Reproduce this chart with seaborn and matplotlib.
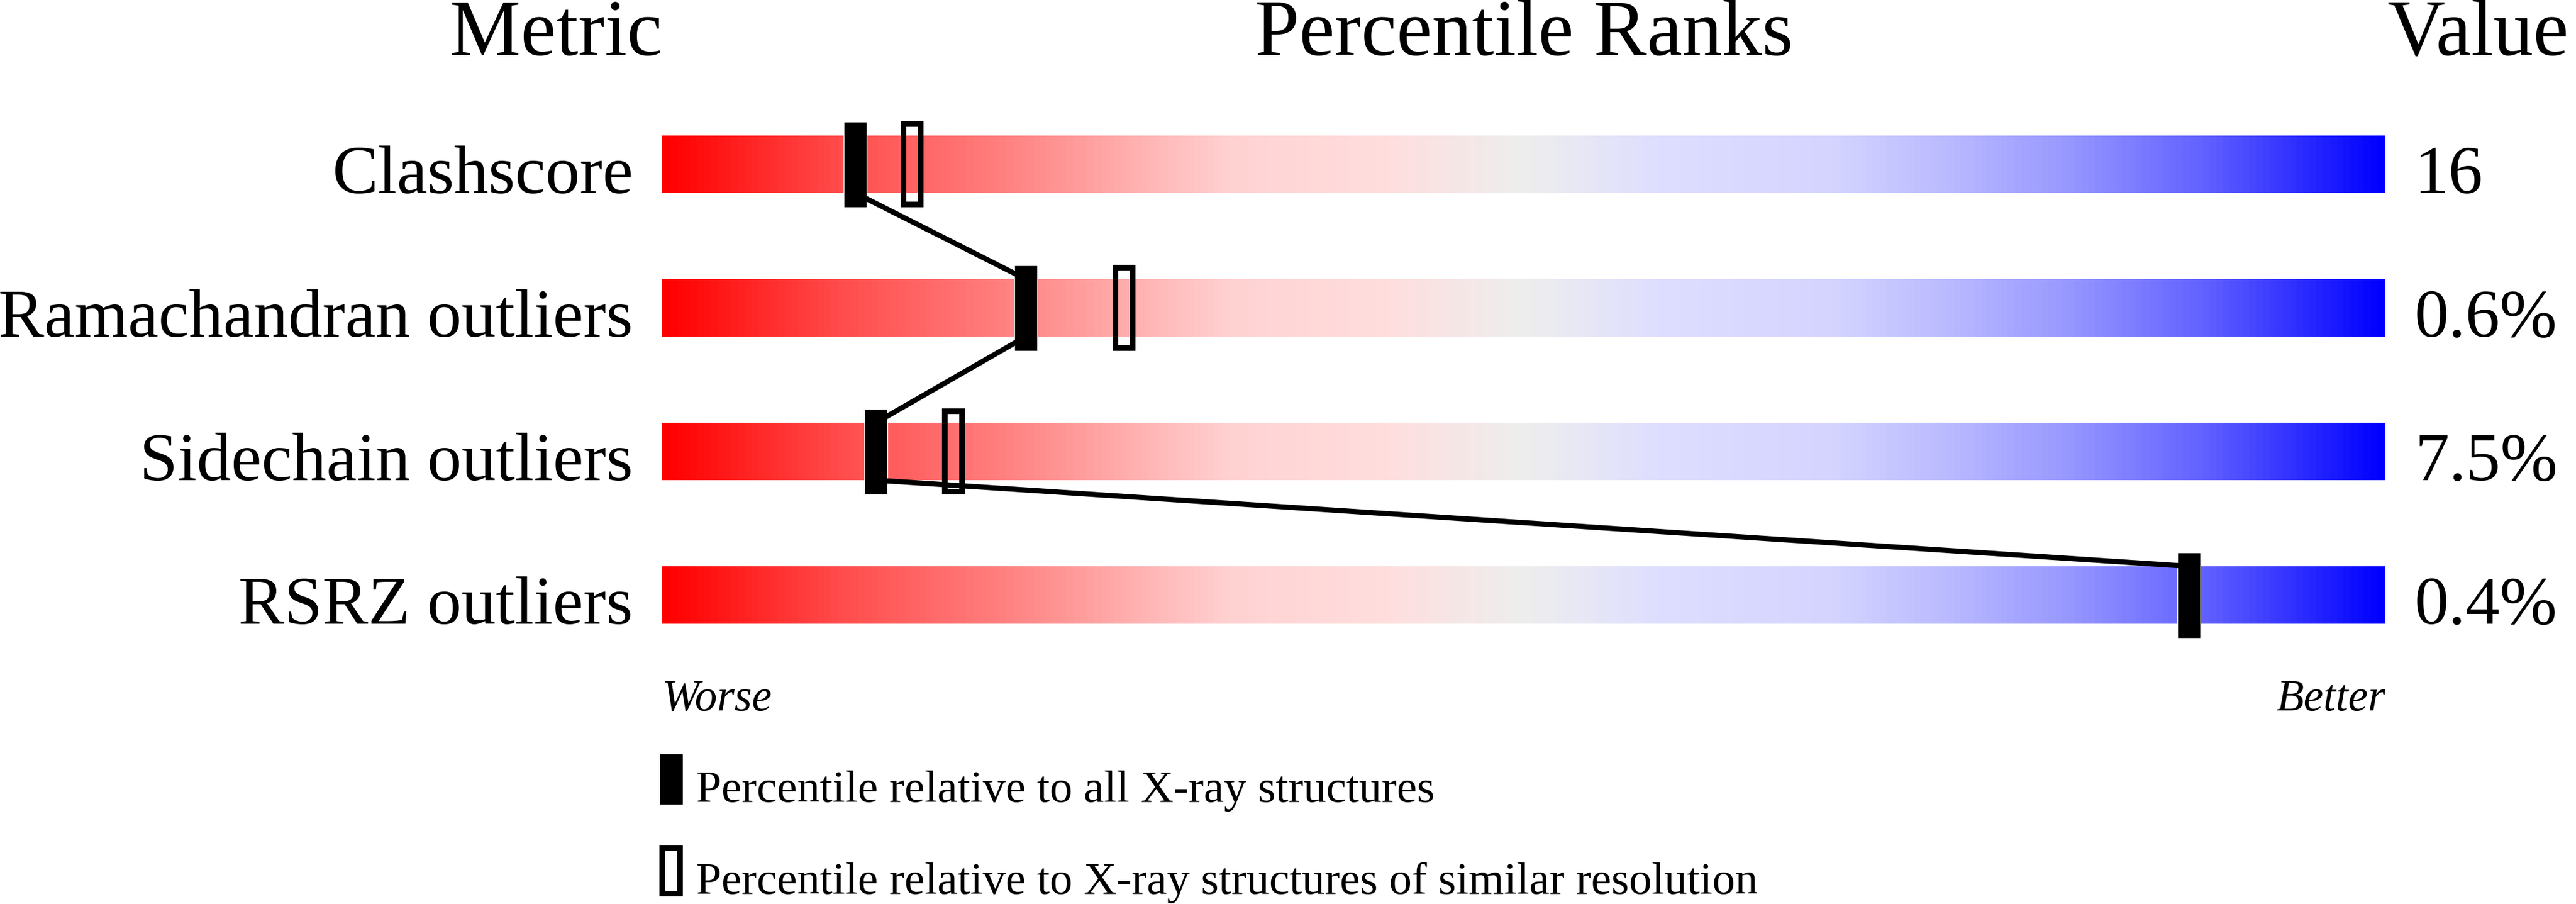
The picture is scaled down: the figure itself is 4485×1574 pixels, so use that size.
import numpy as np
import pandas as pd
import matplotlib
matplotlib.use("Agg")
import matplotlib.pyplot as plt
import seaborn as sns
from matplotlib.colors import LinearSegmentedColormap

metrics = ["Clashscore", "Ramachandran outliers", "Sidechain outliers", "RSRZ outliers"]
values = ["16", "0.6%", "7.5%", "0.4%"]
pct_all = [11.2, 21.1, 12.4, 88.6]
pct_res = [14.5, 26.8, 16.9, None]
legend_labels = ["Percentile relative to all X-ray structures",
                 "Percentile relative to X-ray structures of similar resolution"]

# slider gradient, red (worse) -> grey -> blue (better)
grad_stops = [
    (0.00, (255, 0, 0)), (0.10, (255, 75, 75)), (0.20, (255, 130, 130)),
    (0.27, (255, 175, 175)), (0.33, (255, 210, 210)), (0.42, (255, 222, 222)),
    (0.50, (238, 238, 238)), (0.58, (222, 222, 255)), (0.68, (212, 212, 255)),
    (0.75, (185, 185, 255)), (0.82, (150, 150, 255)), (0.90, (95, 95, 255)),
    (1.00, (0, 0, 255)),
]
cmap = LinearSegmentedColormap.from_list(
    "slider", [(p, tuple(c / 255 for c in rgb)) for p, rgb in grad_stops])

sns.set_theme(style="white")
plt.rcParams["font.family"] = ["Liberation Serif", "DejaVu Serif"]
plt.rcParams["text.color"] = "black"

PX = 30.0    # pixels per percentile unit
ROW = 250.0  # pixels per row
fig = plt.figure(figsize=(44.85, 15.74), dpi=100)
ax = fig.add_axes([0, 0, 1, 1])

bar_h = 0.2
mk_h = 0.298
edge_pt = 9.7 * 0.72      # outline of the hollow markers
grad = np.linspace(0, 1, 600).reshape(1, -1)

for i, name in enumerate(metrics):
    ax.imshow(grad, cmap=cmap, aspect="auto", interpolation="bilinear",
              extent=[0, 100, i + bar_h, i - bar_h], zorder=1)
    ax.text(-51 / PX, i + bar_h, name, ha="right", va="baseline", fontsize=86)
    ax.text(100 + 51 / PX, i + bar_h, values[i], ha="left", va="baseline", fontsize=86)

# hollow markers: similar resolution
for i, p in enumerate(pct_res):
    if p is None:
        continue
    ax.bar(p, 139.5 / ROW, bottom=i - 69.75 / ROW, width=30.3 / PX, fill=False,
           edgecolor="black", linewidth=edge_pt, zorder=3)

# filled markers: all X-ray structures
ax.bar(pct_all, 2 * mk_h, bottom=[i - mk_h for i in range(len(metrics))],
       width=40 / PX, color="black", zorder=4)

# connector: from bottom of one bar to top of the next
line = pd.DataFrame({
    "x": np.repeat(pct_all, 2),
    "y": [y for i in range(len(metrics)) for y in (i - bar_h, i + bar_h)],
})
sns.lineplot(data=line, x="x", y="y", sort=False, estimator=None,
             color="black", linewidth=6.5, ax=ax, zorder=5)
ax.set_xlim(-1153 / PX, (4485 - 1153) / PX)
ax.set_ylim((1574 - 286) / ROW, -286 / ROW)
ax.axis("off")

# headers
head_y = (96 - 286) / ROW
ax.text(0, head_y, "Metric", ha="right", va="baseline", fontsize=100)
ax.text(50, head_y, "Percentile Ranks", ha="center", va="baseline", fontsize=100)
ax.text(100 + 3 / PX, head_y, "Value", ha="left", va="baseline", fontsize=100)

ends_y = (1237 - 286) / ROW
ax.text(0, ends_y, "Worse", ha="left", va="baseline", fontsize=56, style="italic")
ax.text(100, ends_y, "Better", ha="right", va="baseline", fontsize=56, style="italic")

# legend
lx = (1168.5 - 1153) / PX
ax.bar(lx, 89 / ROW, bottom=(1312 - 286) / ROW, width=41 / PX, color="black")
ax.text((1212 - 1153) / PX, (1396 - 286) / ROW, legend_labels[0],
        ha="left", va="baseline", fontsize=57)
ax.bar(lx, 79 / ROW, bottom=(1477 - 286) / ROW, width=31 / PX, fill=False,
       edgecolor="black", linewidth=edge_pt)
ax.text((1212 - 1153) / PX, (1556 - 286) / ROW, legend_labels[1],
        ha="left", va="baseline", fontsize=57)

fig.savefig("out.png", dpi=100, facecolor="white")
